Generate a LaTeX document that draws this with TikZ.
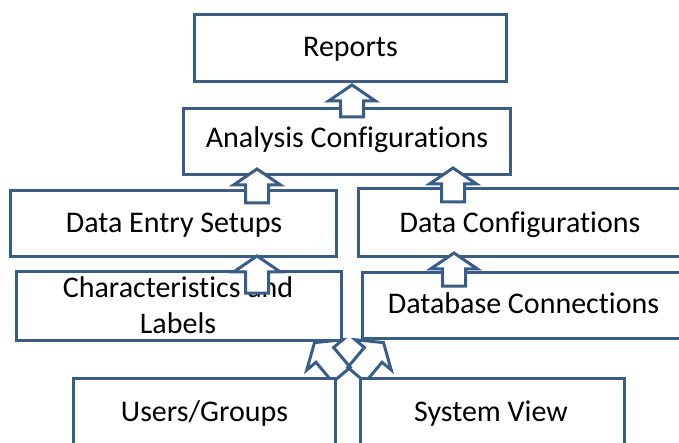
\documentclass[tikz,border=0pt]{standalone}
\usepackage{fontspec}
\setmainfont{Carlito}[Ligatures=NoCommon]
\usetikzlibrary{calc}
\definecolor{edge}{RGB}{56,93,138}
\newcommand\blockarrow[4]{%
  \path[blk,#4,shift={(#1)},rotate=#3] (0,0) -- (23.5,16) -- (11.5,16) -- (11.5,#2) -- (-11.5,#2) -- (-11.5,16) -- (-23.5,16) -- cycle;}
\begin{document}
\begin{tikzpicture}[x=1pt,y=-1pt,
  box/.style={draw=edge, line width=3pt, fill=white, rectangle, inner sep=0pt},
  lbl/.style={font=\fontsize{30}{36}\selectfont, inner sep=0pt, anchor=base, text=black},
  blk/.style={draw=edge, line width=3pt, fill=white, line join=miter}]
\useasboundingbox (0,0) rectangle (679,443);
\clip (0,0) rectangle (679,443);
% tilted arrows (behind the boxes)
\coordinate (tl) at (314.5,342.6);
\coordinate (tr) at (383.5,342.6);
\blockarrow{tl}{42}{40}{draw=none}
\blockarrow{tr}{42}{-40}{draw=none}
\blockarrow{tl}{42}{40}{fill=none}
\blockarrow{tr}{42}{-40}{fill=none}
% boxes
\node[box, minimum width=312, minimum height=67] (rep) at (350.5,48) {};
\node[box, minimum width=327, minimum height=66] (ana) at (347,141.5) {};
\node[box, minimum width=326, minimum height=66] (des) at (173.5,223.5) {};
\node[box, minimum width=325, minimum height=69] (chl) at (179,306) {};
\node[box, minimum width=323, minimum height=68] (dcf) at (520,222.5) {};
\node[box, minimum width=322, minimum height=66] (dbc) at (523.5,305.5) {};
\node[box, minimum width=262, minimum height=80] (usr) at (204.5,418.5) {};
\node[box, minimum width=264, minimum height=80] (sys) at (492.5,418.5) {};
% labels
\node[lbl] (repT) at (350.5,57) {Reports};
\node[lbl] (anaT) at (347,148) {Analysis Configurations};
\node[lbl] (desT) at (174,233) {Data Entry Setups};
\node[lbl] (chlT) at (178,297) {Characteristics and};
\node[lbl] (chlT2) at (178,333) {Labels};
\node[lbl] (dcfT) at (520,233) {Data Configurations};
\node[lbl] (dbcT) at (523.5,313) {Database Connections};
\node[lbl] (usrT) at (204.5,421) {Users/Groups};
\node[lbl] (sysT) at (491,421) {System View};
% vertical block arrows
\coordinate (a1) at (352,85);
\coordinate (a2) at (257,169);
\coordinate (a3) at (453,168);
\coordinate (a4) at (257,256);
\coordinate (a5) at (454,253);
\blockarrow{a1}{32}{0}{}
\blockarrow{a2}{34}{0}{}
\blockarrow{a3}{34}{0}{}
\blockarrow{a4}{37}{0}{}
\blockarrow{a5}{33}{0}{}
\end{tikzpicture}
\end{document}
